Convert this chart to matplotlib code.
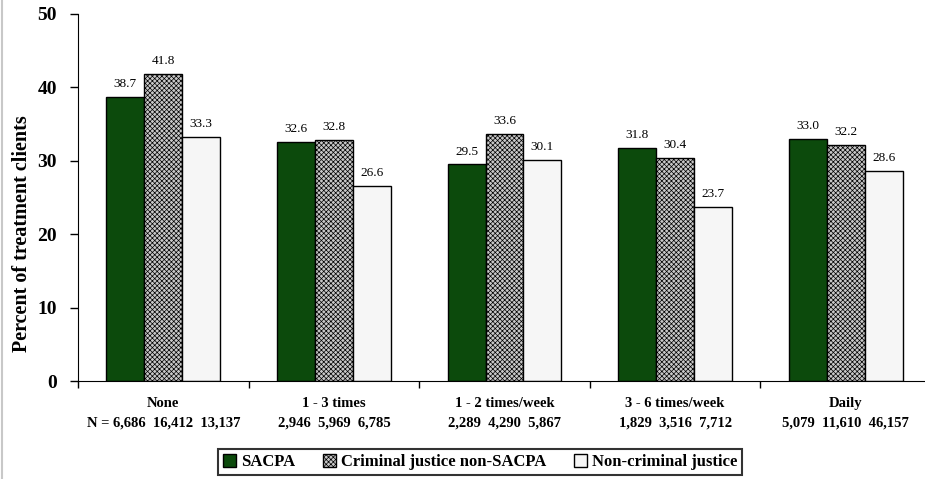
import matplotlib
matplotlib.use("Agg")
import matplotlib.pyplot as plt
from matplotlib.lines import Line2D
from matplotlib.transforms import blended_transform_factory
import numpy as np

categories = ["None", "1 - 3 times", "1 - 2 times/week", "3 - 6 times/week", "Daily"]
series_names = ["SACPA", "Criminal justice non-SACPA", "Non-criminal justice"]
sacpa = [38.7, 32.6, 29.5, 31.8, 33.0]
cj_non = [41.8, 32.8, 33.6, 30.4, 32.2]
non_cj = [33.3, 26.6, 30.1, 23.7, 28.6]
n_labels = ["N = 6,686  16,412  13,137", "2,946  5,969  6,785", "2,289  4,290  5,867",
            "1,829  3,516  7,712", "5,079  11,610  46,157"]
y_ticks = [0, 10, 20, 30, 40, 50]

plt.rcParams['font.family'] = ['Liberation Serif', 'DejaVu Serif']
plt.rcParams['hatch.linewidth'] = 0.5

fig = plt.figure(figsize=(9.25, 4.79), dpi=100)
W, H = 925, 479
left, right, top, bottom = 78, 931, 14, 381
ax = fig.add_axes([left / W, 1 - bottom / H, (right - left) / W, (bottom - top) / H])

x = np.arange(len(categories))
bw = 0.222
styles = [
    dict(facecolor="#0c4a0c", edgecolor="black", hatch=None),
    dict(facecolor="#c8c8c8", edgecolor="black", hatch="xxxxxxx"),
    dict(facecolor="#f6f6f6", edgecolor="black", hatch=None),
]
handles = []
for i, (vals, st) in enumerate(zip([sacpa, cj_non, non_cj], styles)):
    bars = ax.bar(x + (i - 1) * bw, vals, width=bw, linewidth=1.0, label=series_names[i], **st)
    handles.append(bars)
    for xi, v in zip(x + (i - 1) * bw, vals):
        ax.annotate(f"{v:.1f}", (xi, v), xytext=(0, 5), textcoords="offset points",
                    ha="center", va="bottom", fontsize=9.5)

ax.set_xlim(-0.5, len(categories) - 0.5)
ax.set_ylim(0, 50)
ax.set_yticks(y_ticks)
ax.set_yticklabels([str(t) for t in y_ticks], fontsize=14, fontweight="bold")
ax.set_xticks(np.arange(len(categories) + 1) - 0.5)
ax.set_xticklabels([])
ax.tick_params(axis="x", direction="out", length=5, width=1)
ax.tick_params(axis="y", direction="out", length=6, width=1, pad=9)
ax.spines["top"].set_visible(False)
ax.spines["right"].set_visible(False)
fig.text(22 / W, 1 - 234 / H, "Percent of treatment clients", rotation=90, ha="center", va="center",
         fontsize=14.5, fontweight="bold")

trans = blended_transform_factory(ax.transData, ax.transAxes)
for xi, c, n in zip(x, categories, n_labels):
    ax.text(xi, -0.060, c, transform=trans, ha="center", va="center", fontsize=10.5, fontweight="bold")
    ax.text(xi, -0.114, n, transform=trans, ha="center", va="center", fontsize=10.5, fontweight="bold")

leg = fig.legend(handles=handles, labels=series_names, loc="center", bbox_to_anchor=(0.519, 0.035),
                 ncol=3, fancybox=False, frameon=True, edgecolor="black",
                 prop=dict(weight="bold", size=12), handlelength=0.75, handleheight=0.75,
                 handletextpad=0.3, columnspacing=1.7, borderpad=0.3)
leg.get_frame().set_linewidth(1.5)

fig.add_artist(Line2D([1.5 / W, 1.5 / W], [0, 1], color="#c8c8c8", linewidth=1.5, transform=fig.transFigure))

fig.savefig("out.png", dpi=100)
